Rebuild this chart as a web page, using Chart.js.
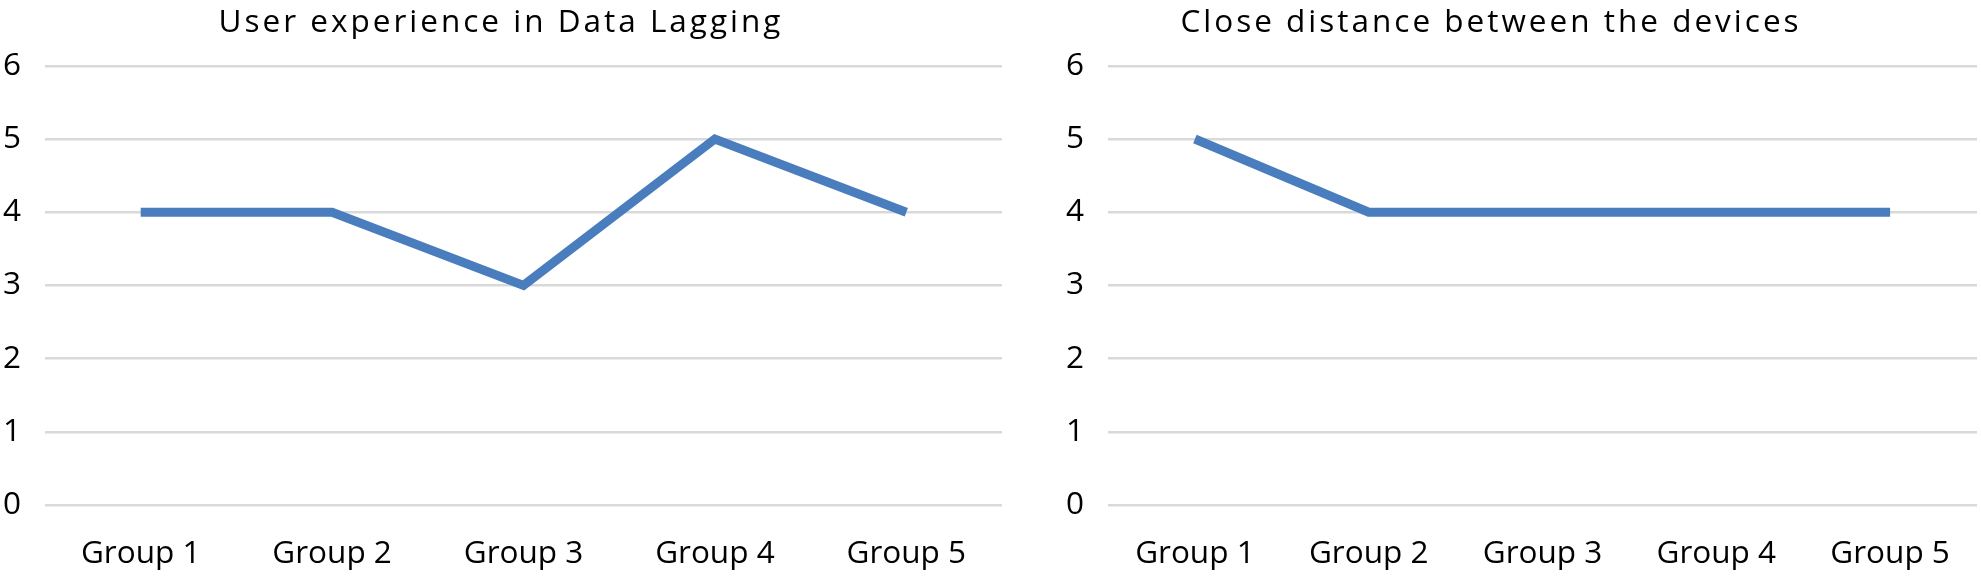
<!DOCTYPE html>
<html lang="en">
<head>
    <meta charset="UTF-8">
    <title>Group line charts</title>
    <script src="https://cdn.jsdelivr.net/npm/chart.js"></script>
    <style>
body {
    background: #fff;
    margin: 0;
    width: 1981px;
    height: 578px;
    overflow: hidden;
    position: relative;
}
canvas {
    position: absolute;
    top: 0;
}
#leftChart  { left: 0; }
#rightChart { left: 1005px; } /* sobrepõe um pouco o da esquerda, fundo transparente */
    </style>
</head>
<body>
    <canvas id="leftChart" width="1030" height="578"></canvas>
    <canvas id="rightChart" width="976" height="578"></canvas>
    <script>
        // Dados
        const groups = ['Group 1', 'Group 2', 'Group 3', 'Group 4', 'Group 5'];
        const lagValues = [4, 4, 3, 5, 4];
        const distanceValues = [5, 4, 4, 4, 4];
        const yTicks = [0, 1, 2, 3, 4, 5, 6];

        const fontFamily = '"Open Sans", sans-serif';
        const lineColor = '#4a7dbd';

        // título com espaçamento entre letras (como no original)
        const spacedTitle = {
            id: 'spacedTitle',
            afterInit(chart) {
                const t = chart.titleBlock;
                if (!t) return;
                const orig = t.draw.bind(t);
                t.draw = function () {
                    const c = this.ctx;
                    c.save();
                    c.letterSpacing = '3px';
                    orig();
                    c.restore();
                };
            }
        };

        function makeChart(id, title, values, axisWidth, padRight) {
            const ctx = document.getElementById(id).getContext('2d');
            return new Chart(ctx, {
                type: 'line',
                data: {
                    labels: groups,
                    datasets: [{
                        data: values,
                        borderColor: lineColor,
                        borderWidth: 9,
                        borderCapStyle: 'butt',
                        borderJoinStyle: 'miter',
                        pointRadius: 0,
                        tension: 0,
                        fill: false
                    }]
                },
                options: {
                    responsive: false,
                    animation: false,
                    devicePixelRatio: 1,
                    layout: { padding: { left: 0, right: padRight, top: 0, bottom: 0 } },
                    plugins: {
                        legend: { display: false },
                        tooltip: { enabled: false },
                        title: {
                            display: true,
                            text: title,
                            color: '#000',
                            font: { family: fontFamily, size: 31.5, weight: 'normal' },
                            padding: { top: 4, bottom: 24 }
                        }
                    },
                    scales: {
                        x: {
                            offset: true,
                            grid: { display: false },
                            border: { display: false },
                            ticks: {
                                color: '#000',
                                font: { family: fontFamily, size: 31.5 },
                                padding: 22,
                                maxRotation: 0
                            },
                            afterFit: s => { s.height = 73; }
                        },
                        y: {
                            min: yTicks[0],
                            max: yTicks[yTicks.length - 1],
                            afterBuildTicks: s => { s.ticks = yTicks.map(v => ({ value: v })); },
                            grid: { color: '#d9d9d9', lineWidth: 2.5, drawTicks: false },
                            border: { display: false },
                            ticks: {
                                color: '#000',
                                font: { family: fontFamily, size: 31.5 },
                                padding: 24
                            },
                            afterFit: s => { s.width = axisWidth; }
                        }
                    }
                },
                plugins: [spacedTitle]
            });
        }

        makeChart('leftChart', 'User experience in Data Lagging', lagValues, 45, 28);
        makeChart('rightChart', 'Close distance between the devices', distanceValues, 103, 4);
    </script>
</body>
</html>
